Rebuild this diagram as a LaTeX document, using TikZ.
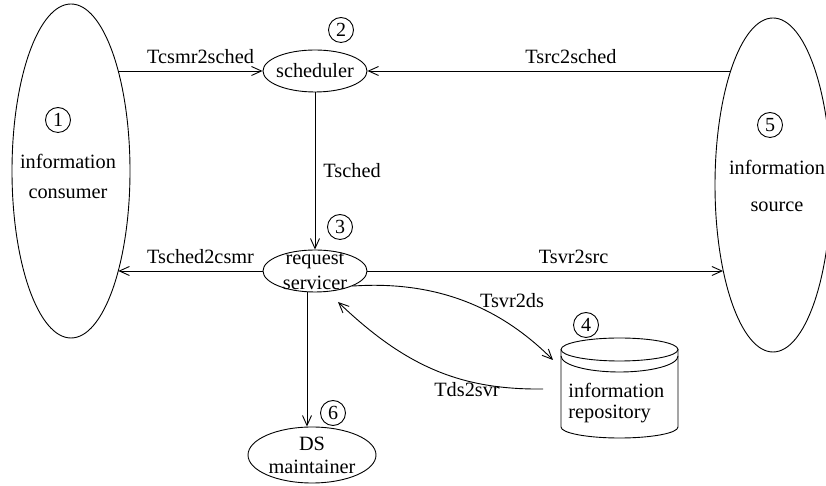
\documentclass[tikz,border=0pt]{standalone}
\usepackage{fontspec}
\setmainfont{Liberation Serif}
\usetikzlibrary{shapes.geometric,arrows.meta}
\tikzset{
  >={Straight Barb[length=10pt,width=9pt]},
  every node/.style={font=\fontsize{20.3}{24}\selectfont},
  party/.style={draw, ellipse, inner sep=0pt, minimum width=118pt, minimum height=334pt},
  proc/.style={draw, ellipse, inner sep=0pt, minimum width=104pt, minimum height=42pt},
  num/.style={draw, circle, inner sep=0pt, minimum size=25pt, font=\fontsize{20}{20}\selectfont},
  lbl/.style={inner sep=7pt},
}

\begin{document}
\begin{tikzpicture}[x=1pt, y=1pt, line width=0.9pt]
    \useasboundingbox (0,0) rectangle (826,486);
    % outer parties
    \node[party] (consumer) at (71,315) {};
    \node[party, minimum width=116pt] (source) at (773,301) {};
    \node[align=center] (consumertext) at (68,310) {information\\[6pt]consumer};
    \node[align=center] (sourcetext) at (777,300) {information\\[13pt]source};
    % processes
    \node[proc] (scheduler) at (315,415) {};
    \node (schedulertext) at (scheduler) {scheduler};
    \node[proc] (servicer) at (315,215) {};
    \node[align=center] (servicertext) at (servicer) {request\\[1pt]servicer};
    \node[proc, minimum width=128pt, minimum height=56pt] (maintainer) at (312,31) {};
    \node[align=center, font=\fontsize{20.3}{23}\selectfont] (maintainertext) at (maintainer) {DS\\maintainer};
    % the repository
    \coordinate (repo) at (619.5,136.5);
    \draw (repo) ellipse[x radius=58.5, y radius=11.5];
    \draw (561,136.5) -- (561,59) arc[start angle=180, end angle=360, x radius=58.5, y radius=11] -- (678,136.5);
    \draw (561,130) arc[start angle=180, end angle=360, x radius=58.5, y radius=16];
    \node[align=left, anchor=west, inner sep=0pt, font=\fontsize{20.3}{21}\selectfont] (repotext) at (568,83) {information\\repository};
    % numbers
    \node[num] (n1) at (58,366) {1};
    \node[num] (n2) at (341,456) {2};
    \node[num] (n3) at (340,259) {3};
    \node[num] (n4) at (586,161) {4};
    \node[num] (n5) at (770,361) {5};
    \node[num] (n6) at (333,73) {6};
    % transitions
    \draw[->] (consumer.65 |- scheduler.west)
        -- node[lbl, above, pos=0.57] (csmr2sched) {Tcsmr2sched} (scheduler.west);
    \draw[->] (source.110 |- scheduler.east)
        -- node[lbl, above, pos=0.44] (src2sched) {Tsrc2sched} (scheduler.east);
    \draw[->] (scheduler) -- node[lbl, right, xshift=1pt] (sched) {Tsched} (servicer);
    \draw[->] (servicer.west)
        -- node[lbl, above, pos=0.43] (sched2csmr) {Tsched2csmr} (consumer.-65 |- servicer.west);
    \draw[->] (servicer.east)
        -- node[lbl, above, pos=0.58] (svr2src) {Tsvr2src} (source.240 |- servicer.east);
    \coordinate (mline) at (307,0);
    \draw[->] (servicer.south -| mline) -- (maintainer.north -| mline);
    \coordinate (dsin) at (553,126);
    \coordinate (dsout) at (543,97);
    \coordinate (svrin) at (338,184);
    \draw[->] (servicer.-22) .. controls (440,206) and (503,176) .. (dsin);
    \draw[->] (dsout) .. controls (460,96) and (405,120) .. (svrin);
    \node (svr2ds) at (512,185) {Tsvr2ds};
    \node (ds2svr) at (467,96) {Tds2svr};
\end{tikzpicture}
\end{document}
